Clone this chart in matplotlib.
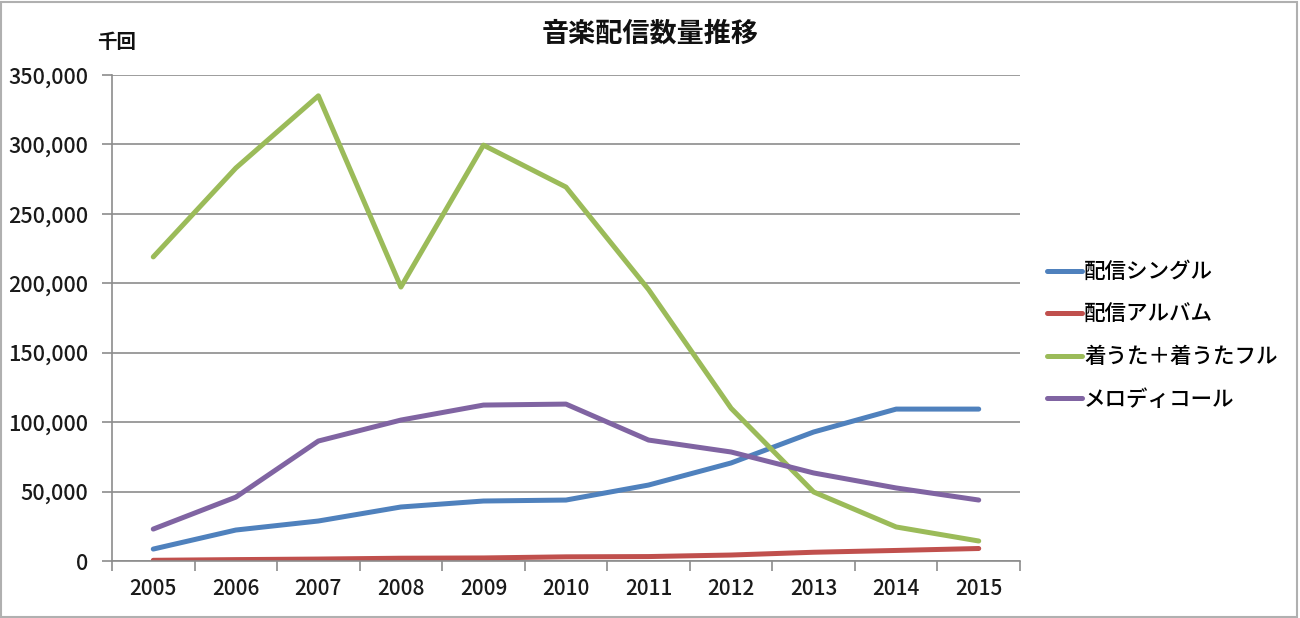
import numpy as np
import matplotlib
matplotlib.use('Agg')
import matplotlib.pyplot as plt
from matplotlib.patches import Rectangle

plt.rcParams['font.family'] = ['Noto Sans CJK JP', 'DejaVu Sans']

years = ['2005', '2006', '2007', '2008', '2009', '2010', '2011', '2012', '2013', '2014', '2015']
single = [8600, 22300, 28800, 38900, 43200, 43900, 54700, 70600, 92900, 109400, 109400]
album = [500, 1000, 1400, 2000, 2200, 3000, 3200, 4300, 6300, 7600, 9000]
chakuuta = [219000, 283000, 335000, 197300, 299500, 269300, 195500, 110000, 49700, 24500, 14400]
melody = [23000, 46000, 86400, 101500, 112300, 113000, 87100, 78500, 63400, 52600, 43900]

names = ['配信シングル', '配信アルバム', '着うた＋着うたフル', 'メロディコール']
colors = ['#4F81BD', '#C0504D', '#9BBB59', '#8064A2']

fig = plt.figure(figsize=(13, 6.18), dpi=100)
ax = fig.add_axes([112/1300, 1 - 561/618, (1020-112)/1300, (561-75)/618])

x = np.arange(len(years))
for vals, name, c in zip([single, album, chakuuta, melody], names, colors):
    ax.plot(x, vals, color=c, lw=3.6, label=name, solid_capstyle='round', solid_joinstyle='round')

ax.set_xlim(-0.5, len(years) - 0.5)
ax.set_ylim(0, 350000)
ax.set_yticks(np.arange(0, 350001, 50000))
ax.set_yticklabels([f'{v:,}' for v in range(0, 350001, 50000)], fontsize=15.5, color='#1a1a1a',
                   fontweight='medium')
ax.set_xticks(x)
ax.set_xticklabels(years, fontsize=15, color='#1a1a1a', fontweight='medium')
ax.set_xticks(np.arange(-0.5, len(years)), minor=True)
ax.tick_params(axis='x', which='major', length=0, pad=12)
ax.tick_params(axis='x', which='minor', length=7, width=1.2, color='#8c8c8c', direction='out')
ax.tick_params(axis='y', length=7, width=1.2, color='#8c8c8c', direction='out', pad=10)

ax.grid(axis='y', color='#8c8c8c', lw=1.2)
ax.set_axisbelow(True)
for s in ['top', 'right']:
    ax.spines[s].set_visible(False)
for s in ['left', 'bottom']:
    ax.spines[s].set_color('#8c8c8c')
    ax.spines[s].set_linewidth(1.2)

fig.text(650/1300, 1 - 34/618, '音楽配信数量推移', ha='center', va='center', fontsize=19.5, fontweight='bold', color='#111111')
fig.text(97/1300, 1 - 43/618, '千回', ha='left', va='center', fontsize=14, fontweight='bold', color='#111111')

fig.legend(loc='upper left', bbox_to_anchor=(1028/1300, 1 - 242/618), frameon=False,
           handlelength=1.6, handletextpad=0.1, labelspacing=0.95,
           prop={'size': 15.5, 'weight': 'medium'})

fig.patches.append(Rectangle((0.001, 0.002), 0.997, 0.995, transform=fig.transFigure,
                             fill=False, edgecolor='#b0b0b0', lw=1.5))

fig.savefig('out.png', dpi=100)
